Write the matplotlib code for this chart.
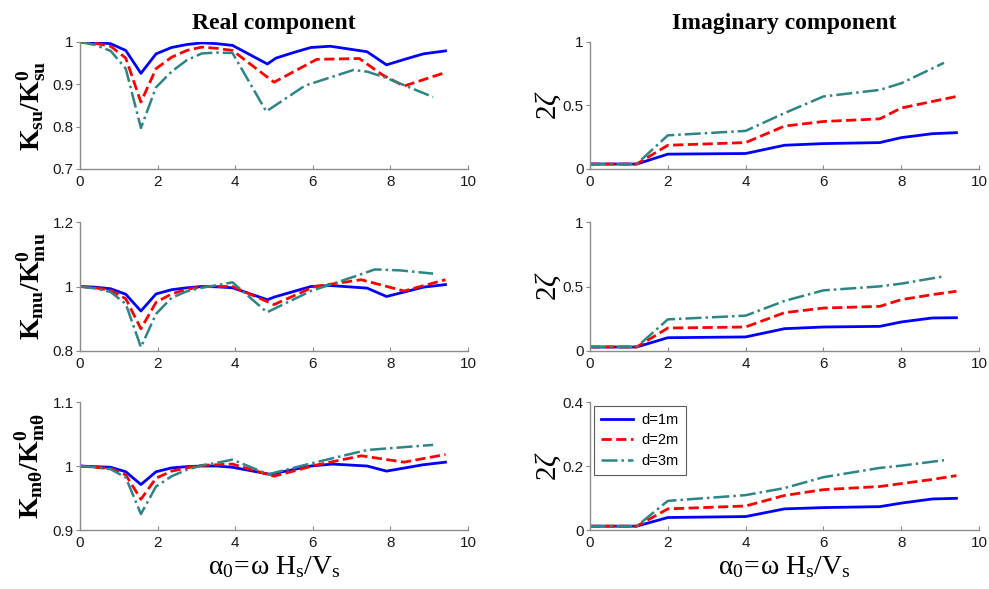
import numpy as np
import matplotlib
matplotlib.use('Agg')
import matplotlib.pyplot as plt

plt.rcParams['font.family'] = ['Liberation Sans', 'DejaVu Sans']
plt.rcParams['mathtext.fontset'] = 'custom'
plt.rcParams['mathtext.rm'] = 'Liberation Serif'
plt.rcParams['mathtext.bf'] = 'Liberation Serif:bold'
plt.rcParams['mathtext.it'] = 'Liberation Serif:italic'

# %%
# real component, K_su / K0_su
su_x1 = [0, 0.39, 0.79, 1.18, 1.57, 1.96, 2.36, 2.75, 3.14, 3.53, 3.93, 4.83, 5.05, 5.5, 5.95, 6.45, 7.4, 7.9, 8.4, 8.85, 9.42]
su_y1 = [1.0, 0.999, 0.996, 0.980, 0.926, 0.972, 0.987, 0.994, 0.998, 0.996, 0.992, 0.948, 0.962, 0.975, 0.987, 0.990, 0.977, 0.946, 0.960, 0.972, 0.979]
su_x2 = [0, 0.39, 0.79, 1.18, 1.57, 1.96, 2.36, 2.75, 3.14, 3.53, 3.93, 5.0, 6.1, 7.2, 7.8, 8.35, 9.42]
su_y2 = [1.0, 0.997, 0.990, 0.962, 0.858, 0.937, 0.964, 0.980, 0.988, 0.985, 0.980, 0.905, 0.959, 0.961, 0.922, 0.896, 0.928]
su_x3 = [0, 0.39, 0.79, 1.18, 1.57, 1.96, 2.36, 2.75, 3.14, 3.53, 3.93, 4.8, 5.8, 7.05, 7.4, 7.9, 9.1]
su_y3 = [1.0, 0.993, 0.979, 0.937, 0.797, 0.893, 0.930, 0.957, 0.973, 0.975, 0.974, 0.836, 0.897, 0.934, 0.930, 0.915, 0.870]

# K_mu / K0_mu
mu_x1 = [0, 0.39, 0.79, 1.18, 1.57, 1.96, 2.36, 2.75, 3.14, 3.53, 3.93, 4.83, 5.0, 5.95, 6.45, 7.4, 7.9, 8.85, 9.42]
mu_y1 = [1.0, 0.998, 0.993, 0.976, 0.924, 0.977, 0.99, 0.996, 1.0, 0.999, 0.996, 0.959, 0.967, 1.0, 1.003, 0.995, 0.969, 0.998, 1.006]
mu_x2 = [0, 0.39, 0.79, 1.18, 1.57, 1.96, 2.36, 2.75, 3.14, 3.53, 3.93, 5.0, 6.05, 7.25, 8.35, 9.42]
mu_y2 = [1.0, 0.996, 0.988, 0.962, 0.869, 0.951, 0.977, 0.991, 1.0, 1.0, 1.0, 0.944, 1.0, 1.021, 0.986, 1.021]
mu_x3 = [0, 0.39, 0.79, 1.18, 1.57, 1.96, 2.36, 2.75, 3.14, 3.53, 3.93, 4.82, 5.95, 7.15, 7.6, 8.25, 9.1]
mu_y3 = [1.0, 0.994, 0.983, 0.946, 0.812, 0.915, 0.965, 0.985, 0.996, 1.004, 1.013, 0.920, 0.986, 1.034, 1.053, 1.050, 1.040]

# K_mtheta / K0_mtheta
mt_x1 = [0, 0.39, 0.79, 1.18, 1.57, 1.96, 2.36, 2.75, 3.14, 3.53, 3.93, 4.9, 5.95, 6.5, 7.4, 7.9, 8.85, 9.42]
mt_y1 = [1.0, 0.999, 0.998, 0.991, 0.971, 0.991, 0.997, 0.999, 1.0, 1.0, 0.998, 0.987, 1.0, 1.003, 1.0, 0.992, 1.002, 1.006]
mt_x2 = [0, 0.39, 0.79, 1.18, 1.57, 1.96, 2.36, 2.75, 3.14, 3.53, 3.93, 5.0, 6.05, 7.25, 8.35, 9.42]
mt_y2 = [1.0, 0.998, 0.996, 0.986, 0.948, 0.981, 0.992, 0.997, 1.001, 1.002, 1.003, 0.984, 1.001, 1.016, 1.006, 1.018]
mt_x3 = [0, 0.39, 0.79, 1.18, 1.57, 1.96, 2.36, 2.75, 3.14, 3.53, 3.93, 4.85, 5.95, 7.4, 8.25, 9.1]
mt_y3 = [1.0, 0.998, 0.995, 0.982, 0.925, 0.968, 0.984, 0.994, 1.001, 1.005, 1.010, 0.987, 1.004, 1.025, 1.029, 1.033]

# imaginary component, 2 zeta
im_x = [0, 0.4, 0.8, 1.2, 2.0, 4.0, 5.0, 6.0, 7.45, 8.0, 8.8, 9.42]
im_x3 = [0, 0.4, 0.8, 1.2, 2.0, 4.0, 5.0, 6.0, 7.45, 8.0, 9.1]
zs_1 = [0.039, 0.039, 0.039, 0.039, 0.117, 0.122, 0.187, 0.200, 0.208, 0.247, 0.278, 0.286]
zs_2 = [0.039, 0.039, 0.039, 0.039, 0.187, 0.208, 0.338, 0.374, 0.395, 0.480, 0.532, 0.571]
zs_3 = [0.039, 0.039, 0.039, 0.039, 0.265, 0.300, 0.440, 0.571, 0.623, 0.675, 0.836]
zm_1 = [0.031, 0.031, 0.031, 0.031, 0.103, 0.109, 0.173, 0.186, 0.191, 0.225, 0.256, 0.258]
zm_2 = [0.031, 0.031, 0.031, 0.031, 0.178, 0.186, 0.297, 0.333, 0.346, 0.398, 0.437, 0.463]
zm_3 = [0.031, 0.031, 0.031, 0.031, 0.245, 0.274, 0.388, 0.470, 0.501, 0.522, 0.579]
zt_1 = [0.012, 0.012, 0.012, 0.012, 0.039, 0.042, 0.066, 0.070, 0.073, 0.084, 0.097, 0.099]
zt_2 = [0.012, 0.012, 0.012, 0.012, 0.066, 0.075, 0.108, 0.126, 0.136, 0.145, 0.158, 0.170]
zt_3 = [0.012, 0.012, 0.012, 0.012, 0.091, 0.109, 0.131, 0.165, 0.194, 0.201, 0.218]

labels = ['d=1m', 'd=2m', 'd=3m']
colors = ['#0000ff', '#ff0000', '#2e8585']
styles = ['-', '--', '-.']
widths = [2.0, 2.0, 1.8]

# %%
fig = plt.figure(figsize=(9.89, 5.89), dpi=100)

W, H = 989.0, 589.0
def rect(l, t, r, b):
    return [l / W, 1 - b / H, (r - l) / W, (b - t) / H]

rows = [(42, 169), (222, 351), (402, 530)]
axL = [fig.add_axes(rect(80, t, 468, b)) for t, b in rows]
axR = [fig.add_axes(rect(590, t, 979, b)) for t, b in rows]

real_data = [
    [(su_x1, su_y1), (su_x2, su_y2), (su_x3, su_y3)],
    [(mu_x1, mu_y1), (mu_x2, mu_y2), (mu_x3, mu_y3)],
    [(mt_x1, mt_y1), (mt_x2, mt_y2), (mt_x3, mt_y3)],
]
imag_data = [
    [(im_x, zs_1), (im_x, zs_2), (im_x3, zs_3)],
    [(im_x, zm_1), (im_x, zm_2), (im_x3, zm_3)],
    [(im_x, zt_1), (im_x, zt_2), (im_x3, zt_3)],
]
real_ylim = [(0.7, 1.0), (0.8, 1.2), (0.9, 1.1)]
real_ticks = [[0.7, 0.8, 0.9, 1.0], [0.8, 1.0, 1.2], [0.9, 1.0, 1.1]]
real_tlabels = [['0.7', '0.8', '0.9', '1'], ['0.8', '1', '1.2'], ['0.9', '1', '1.1']]
imag_ylim = [(0, 1), (0, 1), (0, 0.4)]
imag_ticks = [[0, 0.5, 1], [0, 0.5, 1], [0, 0.2, 0.4]]
imag_tlabels = [['0', '0.5', '1'], ['0', '0.5', '1'], ['0', '0.2', '0.4']]
real_ylabels = [r'$\mathbf{K_{su}/K^0_{su}}$', r'$\mathbf{K_{mu}/K^0_{mu}}$',
                r'$\mathbf{K_{m\theta}/K^0_{m\theta}}$']


def style_axes(ax):
    for s in ['top', 'right']:
        ax.spines[s].set_visible(False)
    for s in ['left', 'bottom']:
        ax.spines[s].set_color('#8c8c8c')
        ax.spines[s].set_linewidth(1.0)
    ax.tick_params(axis='x', direction='in', length=3, color='#8c8c8c',
                   labelsize=11, labelcolor='#1a1a1a', pad=4)
    ax.tick_params(axis='y', direction='out', length=3, color='#8c8c8c',
                   labelsize=11, labelcolor='#1a1a1a', pad=1.5)
    ax.set_xlim(0, 10)
    ax.set_xticks([0, 2, 4, 6, 8, 10])
    ax.set_xticklabels(['0', '2', '4', '6', '8', '10'])


for i in range(3):
    ax = axL[i]
    for j in range(3):
        x, y = real_data[i][j]
        ax.plot(x, y, styles[j], color=colors[j], lw=widths[j])
    style_axes(ax)
    ax.set_ylim(*real_ylim[i])
    ax.set_yticks(real_ticks[i])
    ax.set_yticklabels(real_tlabels[i])
    ax.set_ylabel(real_ylabels[i], fontsize=20, labelpad=3)

    ax = axR[i]
    for j in range(3):
        x, y = imag_data[i][j]
        ax.plot(x, y, styles[j], color=colors[j], lw=widths[j], label=labels[j])
    style_axes(ax)
    ax.set_ylim(*imag_ylim[i])
    ax.set_yticks(imag_ticks[i])
    ax.set_yticklabels(imag_tlabels[i])
    ax.set_ylabel(r'$2\zeta$', fontsize=21, labelpad=0)

axL[0].set_title('Real component', fontsize=17, fontweight='bold',
                 family='Liberation Serif', pad=9)
axR[0].set_title('Imaginary component', fontsize=17, fontweight='bold',
                 family='Liberation Serif', pad=9)

xlab = r'$\mathrm{\alpha_0\!=\!\omega\ H_s/V_s}$'
axL[2].set_xlabel(xlab, fontsize=20, labelpad=3)
axR[2].set_xlabel(xlab, fontsize=20, labelpad=3)

leg = axR[2].legend(loc='upper left', fontsize=10.5, frameon=True, fancybox=False,
                    borderaxespad=0.3, handlelength=2.2, labelspacing=0.45,
                    borderpad=0.45, handletextpad=0.6)
leg.get_frame().set_edgecolor('#333333')
leg.get_frame().set_linewidth(0.8)

fig.savefig('out.png', dpi=100)
